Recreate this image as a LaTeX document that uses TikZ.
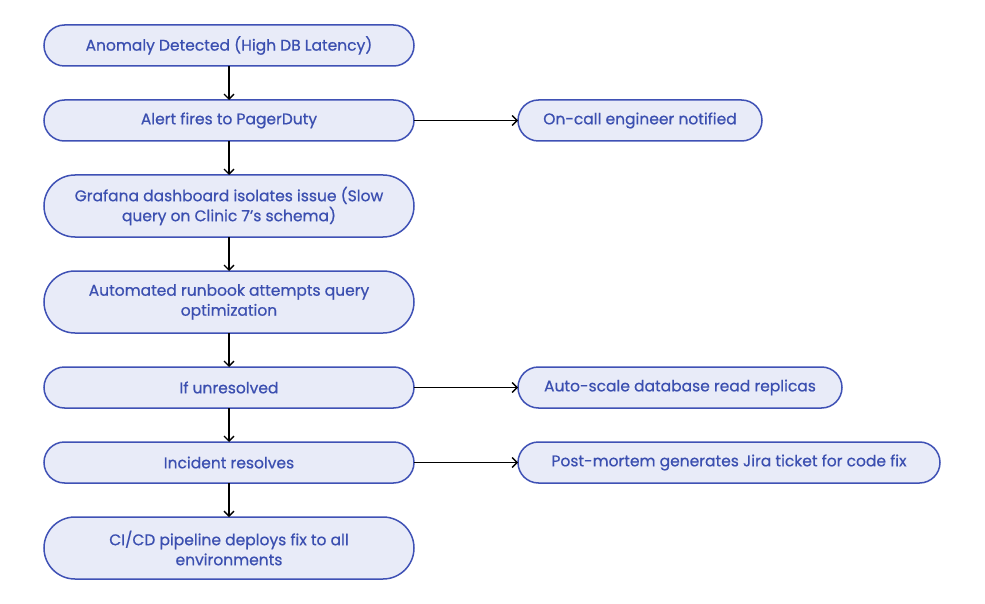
\documentclass[tikz,border=0pt]{standalone}
\usepackage{fontspec}
\setmainfont{Poppins}[FakeBold=0.6]
\usepackage{tikz}
\usetikzlibrary{arrows.meta, positioning}
\definecolor{flowFill}{HTML}{E8EBF8}
\definecolor{flowLine}{HTML}{3F51B5}
\definecolor{flowText}{HTML}{3B4FB0}

\tikzset{
  stepbox/.style={rectangle, rounded corners=20.5pt, fill=flowFill, draw=flowLine,
    line width=1.5pt, outer sep=0pt, minimum width=370pt, minimum height=41pt,
    inner ysep=2pt, align=center, text=flowText,
    font=\fontsize{15.5pt}{20pt}\selectfont},
  tallbox/.style={stepbox, rounded corners=31pt, minimum height=62pt},
  sidebox/.style={stepbox, minimum width=#1},
  flow/.style={-{Straight Barb[length=5pt,width=10pt]}, line width=1.3pt, black}
}

\begin{document}
\begin{tikzpicture}
  \useasboundingbox (0pt,0pt) rectangle (985pt,-604pt);

  % main column
  \node[stepbox] (anomaly) at (229pt,-45.5pt) {Anomaly Detected (High DB Latency)};
  \node[stepbox, below=34pt of anomaly] (alert) {Alert fires to PagerDuty};
  \node[tallbox, below=34pt of alert] (grafana) {Grafana dashboard isolates issue (Slow\\query on Clinic 7's schema)};
  \node[tallbox, below=34pt of grafana] (runbook) {Automated runbook attempts query\\optimization};
  \node[stepbox, below=34pt of runbook] (unresolved) {If unresolved};
  \node[stepbox, below=34pt of unresolved] (resolves) {Incident resolves};
  \node[tallbox, below=34pt of resolves] (cicd) {CI/CD pipeline deploys fix to all\\environments};

  % side branches
  \node[sidebox=244pt, right=104pt of alert] (oncall) {On-call engineer notified};
  \node[sidebox=324pt, right=104pt of unresolved] (autoscale) {Auto-scale database read replicas};
  \node[sidebox=422pt, right=104pt of resolves] (postmortem) {Post-mortem generates Jira ticket for code fix};

  \draw[flow] (anomaly) -- (alert);
  \draw[flow] (alert) -- (grafana);
  \draw[flow] (grafana) -- (runbook);
  \draw[flow] (runbook) -- (unresolved);
  \draw[flow] (unresolved) -- (resolves);
  \draw[flow] (resolves) -- (cicd);

  \draw[flow] (alert) -- (oncall);
  \draw[flow] (unresolved) -- (autoscale);
  \draw[flow] (resolves) -- (postmortem);
\end{tikzpicture}
\end{document}
